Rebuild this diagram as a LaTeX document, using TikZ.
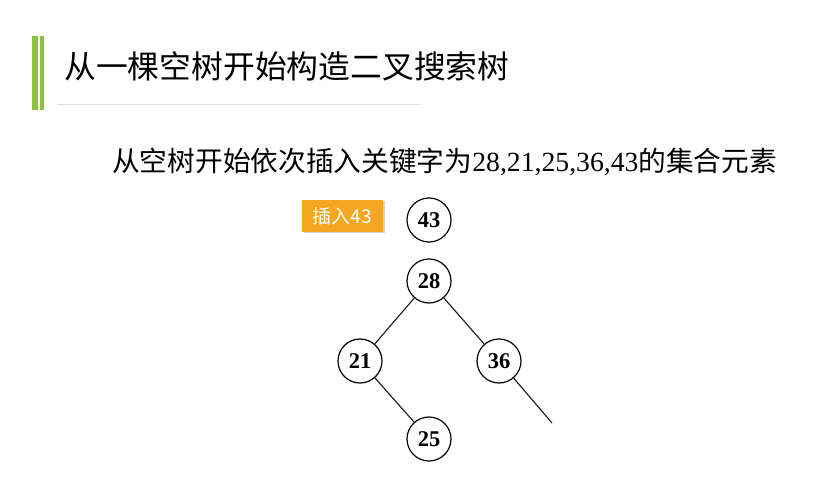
\documentclass[tikz,border=0pt]{standalone}
\usepackage{fontspec}
\setmainfont{Liberation Serif}
\newfontfamily\cjkfont{Noto Sans CJK SC}
\usepackage{tikz}
\usetikzlibrary{positioning, shadows}
\definecolor{barGreen}{RGB}{142,192,72}
\definecolor{ruleGray}{RGB}{222,222,222}
\definecolor{tagOrange}{RGB}{245,166,35}
\tikzset{
  keynode/.style={
    circle, draw=black, line width=1.2pt, minimum size=44pt, inner sep=0pt,
    font=\fontsize{22.5}{22.5}\selectfont\bfseries, text=black
  },
  tagbox/.style={
    rectangle, fill=tagOrange, minimum width=81pt, minimum height=32pt,
    inner sep=0pt, text=white, font=\cjkfont\fontsize{19}{19}\selectfont,
    drop shadow={shadow xshift=1.5pt, shadow yshift=-1.5pt, opacity=0.35}
  },
  edge/.style={line width=1.2pt, color=black!85}
}

\begin{document}
\begin{tikzpicture}[x=1pt, y=-1pt]
  \useasboundingbox (0,0) rectangle (835,478);

  % title bar
  \fill[barGreen] (32,36) rectangle (38,110);
  \fill[barGreen] (40,36) rectangle (44,110);
  \node[anchor=west, inner sep=0pt, font=\cjkfont\fontsize{31.8}{31.8}\selectfont] (title)
    at (64,66) {从一棵空树开始构造二叉搜索树};
  \draw[ruleGray, line width=1pt] (57,105) -- (420,105);

  \node[anchor=west, inner sep=0pt, font=\fontsize{27.7}{27.7}\selectfont] (sub) at (112,162)
    {{\cjkfont 从空树开始依次插入关键字为}28,21,25,36,43{\cjkfont 的集合元素}};

  % tree
  \node[tagbox] (tag) at (342.5,216) {插入43};
  \node[keynode] (k43) at (429,220) {43};
  \node[keynode] (k28) at (429,281) {28};
  \node[keynode] (k21) at (360,361) {21};
  \node[keynode] (k36) at (499,361) {36};
  \node[keynode] (k25) at (429,439) {25};
  \coordinate (leaf) at (552,423);

  \draw[edge] (k28) -- (k21);
  \draw[edge] (k28) -- (k36);
  \draw[edge] (k21) -- (k25);
  \draw[edge] (k36) -- (leaf);
\end{tikzpicture}
\end{document}
